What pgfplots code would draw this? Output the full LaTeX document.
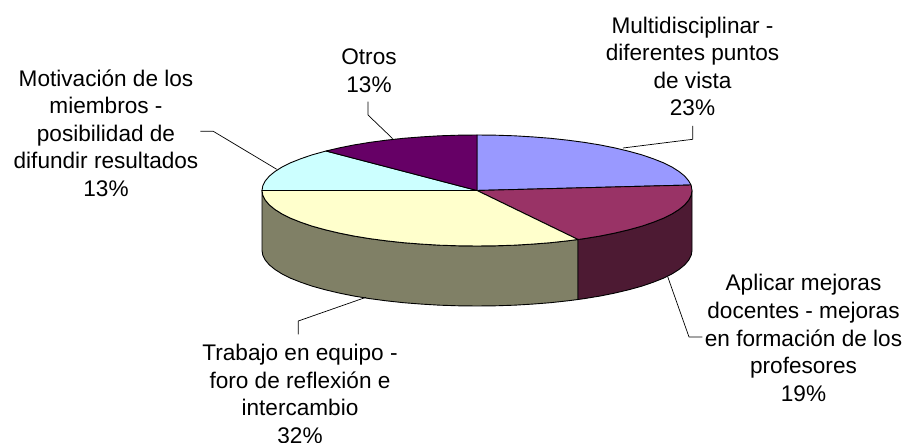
\documentclass[border=0pt]{standalone}
\usepackage{fontspec}
\setmainfont{Liberation Sans}
\usepackage{pgfplots}
\pgfplotsset{compat=1.18}
\definecolor{sliceblue}{HTML}{9999FF}
\definecolor{slicered}{HTML}{993366}
\definecolor{sliceyellow}{HTML}{FFFFCC}
\definecolor{slicecyan}{HTML}{CCFFFF}
\definecolor{slicepurple}{HTML}{660066}
\definecolor{sidered}{HTML}{4D1A33}
\definecolor{sideyellow}{HTML}{808066}
\begin{document}
\begin{tikzpicture}
\useasboundingbox (0,0) rectangle (905pt,443pt);
\begin{axis}[
    at={(0,0)}, anchor=south west,
    scale only axis, width=905pt, height=443pt,
    xmin=0, xmax=905, ymin=0, ymax=443,
    y dir=reverse,
    hide axis,
    clip=false,
    every axis plot/.append style={no markers, line join=round, line width=0.9pt, draw=black},
]
% side walls, same order as the depth
\addplot[fill=sideyellow] coordinates {
  (578,239.5) (567.9,240.8) (550.5,242.7) (532.6,244.1) (514.3,245.2) (495.7,245.8) (477,246)
  (458.3,245.8) (439.7,245.2) (421.4,244.1) (403.5,242.7) (386.1,240.8) (369.5,238.6) (353.7,236)
  (338.8,233) (325,229.7) (312.3,226.2) (300.9,222.3) (290.8,218.3) (282.1,214) (275,209.5)
  (269.3,204.9) (265.3,200.1) (262.8,195.3) (262,190.5)
  (262,250.5) (262.8,255.3) (265.3,260.1) (269.3,264.9) (275,269.5) (282.1,274) (290.8,278.3)
  (300.9,282.3) (312.3,286.2) (325,289.7) (338.8,293) (353.7,296) (369.5,298.6) (386.1,300.8)
  (403.5,302.7) (421.4,304.1) (439.7,305.2) (458.3,305.8) (477,306) (495.7,305.8) (514.3,305.2)
  (532.6,304.1) (550.5,302.7) (567.9,300.8) (578,299.5) (578,239.5) };
\addplot[fill=sidered] coordinates {
  (692,190.5) (691.2,195.3) (688.7,200.1) (684.7,204.9) (679,209.5) (671.9,214) (663.2,218.3)
  (653.1,222.3) (641.7,226.2) (629,229.7) (615.2,233) (600.3,236) (584.5,238.6) (578,239.5)
  (578,299.5) (584.5,298.6) (600.3,296) (615.2,293) (629,289.7) (641.7,286.2) (653.1,282.3)
  (663.2,278.3) (671.9,274) (679,269.5) (684.7,264.9) (688.7,260.1) (691.2,255.3) (692,250.5)
  (692,190.5) };
% top slices
\addplot[fill=sliceblue] coordinates {
  (477,190.5) (477,135) (495.7,135.2) (514.3,135.8) (532.6,136.9) (550.5,138.3) (567.9,140.2)
  (584.5,142.4) (600.3,145) (615.2,148) (629,151.3) (641.7,154.8) (653.1,158.7) (663.2,162.7)
  (671.9,167) (679,171.5) (684.7,176.1) (688.7,180.9) (691,185) (477,190.5) };
\addplot[fill=slicered] coordinates {
  (477,190.5) (691,185) (691.2,185.7) (692,190.5) (691.2,195.3) (688.7,200.1) (684.7,204.9)
  (679,209.5) (671.9,214) (663.2,218.3) (653.1,222.3) (641.7,226.2) (629,229.7) (615.2,233)
  (600.3,236) (584.5,238.6) (578,239.5) (477,190.5) };
\addplot[fill=sliceyellow] coordinates {
  (477,190.5) (578,239.5) (567.9,240.8) (550.5,242.7) (532.6,244.1) (514.3,245.2) (495.7,245.8)
  (477,246) (458.3,245.8) (439.7,245.2) (421.4,244.1) (403.5,242.7) (386.1,240.8) (369.5,238.6)
  (353.7,236) (338.8,233) (325,229.7) (312.3,226.2) (300.9,222.3) (290.8,218.3) (282.1,214)
  (275,209.5) (269.3,204.9) (265.3,200.1) (262.8,195.3) (262,190.5) (477,190.5) };
\addplot[fill=slicecyan] coordinates {
  (477,190.5) (262,190.5) (262.8,185.7) (265.3,180.9) (269.3,176.1) (275,171.5) (282.1,167)
  (290.8,162.7) (300.9,158.7) (312.3,154.8) (325,151.3) (326,151) (477,190.5) };
\addplot[fill=slicepurple] coordinates {
  (477,190.5) (326,151) (338.8,148) (353.7,145) (369.5,142.4) (386.1,140.2) (403.5,138.3)
  (421.4,136.9) (439.7,135.8) (458.3,135.2) (477,135) (477,190.5) };
% leader lines
\addplot[line width=0.7pt] coordinates {(692.7,126) (692.7,139.3) (623,148)};
\addplot[line width=0.7pt] coordinates {(368,101.7) (368,115) (392.7,138.7)};
\addplot[line width=0.7pt] coordinates {(200.3,131.3) (213.3,131.3) (276.7,169.3)};
\addplot[line width=0.7pt] coordinates {(298.3,334.3) (298.3,321) (366,297.3)};
\addplot[line width=0.7pt] coordinates {(667.7,276.7) (689,337) (702.3,337)};
% labels
\tikzset{lab/.style={align=center, font=\fontsize{22.6}{27.6}\selectfont, inner sep=0pt}}
\node[lab] at (axis cs:692.5,66.5) {Multidisciplinar -\\diferentes puntos\\de vista\\23\%};
\node[lab] at (axis cs:369,70.5) {Otros\\13\%};
\node[lab] at (axis cs:106,133) {Motivación de los\\miembros -\\posibilidad de\\difundir resultados\\13\%};
\node[lab] at (axis cs:803.5,338) {Aplicar mejoras\\docentes - mejoras\\en formación de los\\profesores\\19\%};
\node[lab] at (axis cs:300,394) {Trabajo en equipo -\\foro de reflexión e\\intercambio\\32\%};
\end{axis}
\end{tikzpicture}
\end{document}
